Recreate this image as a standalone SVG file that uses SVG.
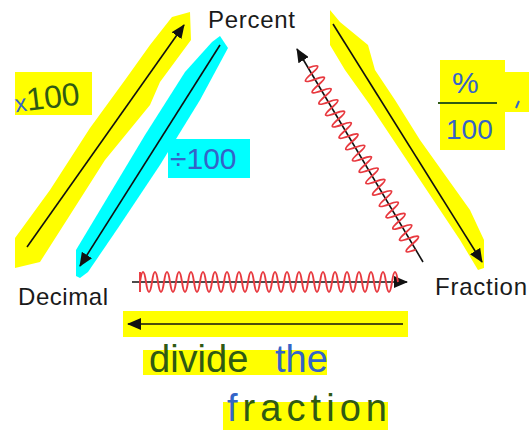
<svg xmlns="http://www.w3.org/2000/svg" width="529" height="431" viewBox="0 0 529 431">
<style>
.lbl{font-family:"Liberation Sans",Arial,sans-serif;font-size:24px;fill:#1a1a1a}
.hw{font-family:"Liberation Sans",Arial,sans-serif}
.ln{stroke:#111;stroke-width:1.6;fill:none}
.wave{stroke:#e8393f;stroke-width:1.9;fill:none;stroke-linejoin:round}
.yel{fill:#ffff00}
.cy{fill:#00ffff}
.blue{fill:#3464c8}
.green{fill:#2f5a14}
</style>
<defs>
<marker id="ah" markerUnits="userSpaceOnUse" markerWidth="14" markerHeight="12" refX="13" refY="6" orient="auto">
<path d="M0,0 L14,6 L0,12 z" fill="#111"/>
</marker>
</defs>
<rect width="529" height="431" fill="#fff"/>

<g id="highlights">
<path class="yel" d="M172,17 L190,12 L191,40 L160,82 L150,105 L105,160 L70,215 L40,262 L15,268 L15,238 L50,190 L90,128 L125,80 L150,45 z"/>
<path class="cy" d="M220,36 L228,48 L200,100 L160,165 L118,228 L88,272 L80,278 L76,276 L76,250 L106,200 L145,135 L185,72 L212,42 z"/>
<path class="yel" d="M330,10 L340,22 L368,45 L375,70 L395,100 L420,140 L445,175 L470,210 L484,240 L484,268 L478,270 L460,240 L430,195 L400,150 L370,105 L345,70 L330,45 z"/>
<rect class="yel" x="123" y="311" width="285" height="26"/>
<rect class="yel" x="15" y="72" width="77" height="43"/>
<rect class="cy" x="168" y="139" width="82" height="39"/>
<rect class="yel" x="440" y="60" width="65" height="90"/>
<rect class="yel" x="505" y="72" width="24" height="40"/>
<rect class="yel" x="143" y="350" width="184" height="25"/>
<rect class="yel" x="223" y="402" width="165" height="28"/>
</g>

<g id="connectors">
<line class="ln" x1="27" y1="247" x2="184" y2="25" marker-end="url(#ah)"/>
<line class="ln" x1="220" y1="45" x2="80" y2="266" marker-end="url(#ah)"/>
<line class="ln" x1="333" y1="24" x2="482" y2="262" marker-end="url(#ah)"/>
<line class="ln" x1="423" y1="262" x2="297" y2="49" marker-end="url(#ah)"/>
<line class="ln" x1="132" y1="282" x2="407" y2="282" marker-end="url(#ah)"/>
<line class="ln" x1="403" y1="324" x2="128" y2="324" marker-end="url(#ah)" stroke-width="2.2"/>
<path class="wave" d="M140,272 L140,292 M140,282 q3,-20 6,0 t6,0 t6,0 t6,0 t6,0 t6,0 t6,0 t6,0 t6,0 t6,0 t6,0 t6,0 t6,0 t6,0 t6,0 t6,0 t6,0 t6,0 t6,0 t6,0 t6,0 t6,0 t6,0 t6,0 t6,0 t6,0 t6,0 t6,0 t6,0 t6,0 t6,0 t6,0 t6,0 t6,0 t6,0 t6,0 t6,0 t6,0 t6,0 t6,0 t6,0 t6,0 t6,0"/>
<path class="wave" transform="translate(297,49) rotate(59.4)" d="M22,0 q3.3,-18 6.6,0 t6.6,0 t6.6,0 t6.6,0 t6.6,0 t6.6,0 t6.6,0 t6.6,0 t6.6,0 t6.6,0 t6.6,0 t6.6,0 t6.6,0 t6.6,0 t6.6,0 t6.6,0 t6.6,0 t6.6,0 t6.6,0 t6.6,0 t6.6,0 t6.6,0 t6.6,0 t6.6,0 t6.6,0 t6.6,0 t6.6,0 t6.6,0 t6.6,0 t6.6,0 t6.6,0 t6.6,0"/>
</g>

<g id="percent"><text class="lbl" x="208" y="28" textLength="87">Percent</text></g>
<g id="decimal"><text class="lbl" x="18" y="305" textLength="90">Decimal</text></g>
<g id="fraction"><text class="lbl" x="435" y="295" textLength="92">Fraction</text></g>

<g id="notes">
<text class="hw" x="14" y="108" font-size="32" transform="rotate(-7 50 95)"><tspan class="blue" font-size="24">x</tspan><tspan class="green">100</tspan></text>
<text class="hw blue" x="170" y="169" font-size="30">÷100</text>
<text class="hw blue" x="452" y="93" font-size="30">%</text>
<line x1="438" y1="103" x2="497" y2="103" stroke="#2f5a14" stroke-width="2.2"/>
<text class="hw blue" x="446" y="139" font-size="28">100</text>
<path d="M516,108 L519,101" stroke="#3464c8" stroke-width="2" fill="none"/>
<text class="hw" x="149" y="372" font-size="38"><tspan class="green">divide</tspan><tspan class="blue" x="275">the</tspan></text>
<text class="hw green" x="227" y="421" font-size="38" textLength="160" lengthAdjust="spacing"><tspan class="blue">f</tspan>raction</text>
</g>
</svg>
